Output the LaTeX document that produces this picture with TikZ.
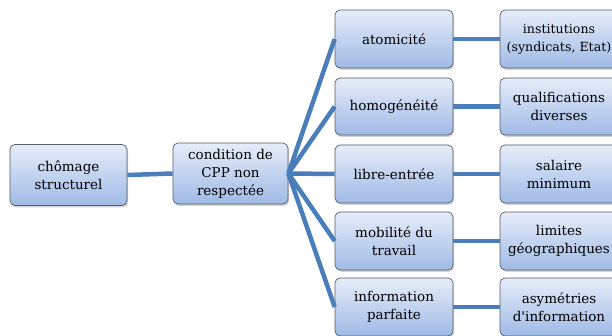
\documentclass[tikz,border=0pt]{standalone}
\usepackage{fontspec}
\setmainfont[Ligatures=TeXOff]{DejaVu Serif}
\usetikzlibrary{shadows}
\definecolor{lineblue}{HTML}{4A7EBB}
\definecolor{boxtop}{HTML}{E6EDF9}
\definecolor{boxbot}{HTML}{9FBAE6}
\definecolor{boxedge}{HTML}{565D66}
\tikzset{
  box/.style={draw=boxedge, line width=0.7pt, rounded corners=5pt,
    top color=boxtop, bottom color=boxbot, minimum width=118pt,
    align=center, inner sep=0pt,
    font=\fontsize{13.5}{18}\selectfont,
    drop shadow={opacity=0.35, shadow xshift=1.2pt, shadow yshift=-1.8pt}},
  link/.style={draw=lineblue, line width=4.5pt}
}
\begin{document}
\begin{tikzpicture}[x=1pt,y=-1pt]
\useasboundingbox (0,0) rectangle (612,336);
\begin{scope}
\clip (0,0) rectangle (612,336);
% column 1 and 2
\node[box, minimum width=117pt, minimum height=61pt] (a) at (68.5,175) {chômage\\structurel};
\node[box, minimum width=115pt, minimum height=61pt] (b) at (230.5,173.5) {condition de\\CPP non\\respectée};
% column 3
\node[box, minimum height=58pt] (c1) at (394,39) {atomicité};
\node[box, minimum height=57pt] (c2) at (394,106.5) {homogénéité};
\node[box, minimum height=58pt] (c3) at (394,174) {libre-entrée};
\node[box, minimum height=58pt] (c4) at (394,241) {mobilité du\\travail};
\node[box, minimum height=58pt] (c5) at (394,307) {information\\parfaite};
% column 4
\node[box, minimum height=58pt, font=\fontsize{12.6}{18}\selectfont] (d1) at (559,39) {institutions\\(syndicats, Etat)};
\node[box, minimum height=57pt] (d2) at (559,106.5) {qualifications\\diverses};
\node[box, minimum height=58pt] (d3) at (559,174) {salaire\\minimum};
\node[box, minimum height=58pt] (d4) at (559,241) {limites\\géographiques};
\node[box, minimum height=58pt] (d5) at (559,307) {asymétries\\d'information};
% connectors
\path[link] (a.east) -- (b.west);
\foreach \i in {1,...,5} {
  \path[link] (b.east) -- (c\i.west);
  \path[link] (c\i.east) -- (d\i.west);
}
\end{scope}
\end{tikzpicture}
\end{document}
